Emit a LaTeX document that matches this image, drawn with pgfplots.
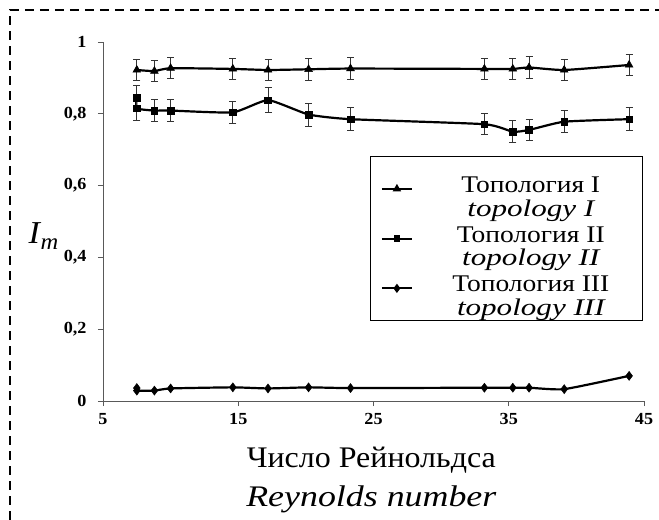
\documentclass[border=0pt]{standalone}
\usepackage{pgfplots}
\pgfplotsset{compat=1.18}
\usepackage{pgfplotstable}
\usepackage{fontspec}
\setmainfont{Liberation Serif}[FakeStretch=1.07]
\newfontfamily\wideit{Liberation Serif}[FakeStretch=1.2]
\newfontfamily\legup{Liberation Serif}[FakeStretch=1.15]
\newfontfamily\legit{Liberation Serif}[FakeStretch=1.3]
\newcommand\lentry[2]{\makebox[198bp]{\fontsize{24}{23.5}\selectfont\begin{tabular}{@{}c@{}}\rule{0pt}{22bp}{\legup #1}\\{\legit\itshape #2}\rule[-12.5bp]{0pt}{0pt}\end{tabular}}}

\pgfplotstableread{
x y e
7.5 0.922 0.03
8.8 0.919 0.03
10.0 0.927 0.03
14.6 0.925 0.03
17.2 0.922 0.03
20.2 0.924 0.03
23.3 0.926 0.03
33.2 0.925 0.03
35.3 0.925 0.03
36.5 0.929 0.03
39.1 0.922 0.03
43.9 0.936 0.03
}\topoI

\pgfplotstableread{
x y e
7.5 0.845 0.035
7.5 0.815 0.033
8.8 0.809 0.03
10.0 0.809 0.03
14.6 0.804 0.03
17.2 0.838 0.034
20.2 0.798 0.032
23.3 0.785 0.032
33.2 0.771 0.03
35.3 0.750 0.03
36.5 0.755 0.03
39.1 0.778 0.03
43.9 0.785 0.032
}\topoII

\pgfplotstableread{
x y
7.5 0.036
7.5 0.029
8.8 0.029
10.0 0.035
14.6 0.038
17.2 0.035
20.2 0.038
23.3 0.036
33.2 0.037
35.3 0.037
36.5 0.037
39.1 0.033
43.9 0.070
}\topoIII

\begin{document}
\begin{tikzpicture}
\useasboundingbox (0bp,0bp) rectangle (659bp,520bp);
\draw[line width=1.4bp, dash pattern=on 9bp off 6bp] (10bp,0bp) -- (10bp,510bp) -- (659bp,510bp);
\begin{axis}[
  at={(103bp,119bp)}, anchor=south west,
  scale only axis, width=541bp, height=359bp,
  xmin=5, xmax=45, ymin=0, ymax=1,
  xtick={5,15,25,35,45}, ytick={0,0.2,0.4,0.6,0.8,1},
  axis lines=left,
  axis line style={-, draw=black!65, line width=0.9bp},
  tick style={draw=black!65, line width=0.9bp},
  tick align=outside, major tick length=5bp,
  /pgf/number format/.cd, use comma, fixed, assume math mode=true,
  /pgfplots/.cd,
  ticklabel style={font=\fontsize{17}{17}\selectfont\bfseries},
  xticklabel style={yshift=-4bp},
  yticklabel style={xshift=-8bp},
  clip=false,
  xlabel={Число Рейнольдса\\{\wideit\itshape Reynolds number}},
  xlabel style={align=center, font=\fontsize{30}{39}\selectfont, at={(axis description cs:0.496,-0.22)}, anchor=center},
  ylabel={\itshape I\kern0.5bp\raisebox{-6bp}{\fontsize{23}{23}\selectfont m}},
  ylabel style={rotate=-90, font=\fontsize{32}{32}\selectfont, at={(axis description cs:-0.11,0.46)}, anchor=center},
  legend style={at={(axis cs:44.95,0.6825)}, anchor=north east, draw=black, line width=1bp,
    nodes={inner sep=2bp},
    row sep=9bp, inner xsep=11bp, inner ysep=12bp, column sep=17bp},
  legend image code/.code={\draw[mark repeat=2,mark phase=2,#1, line width=1.8bp, mark options={scale=0.7, solid}] plot coordinates {(0bp,0bp) (15bp,0bp) (30bp,0bp)};},
]
\addplot[black, line width=2.2bp, smooth, tension=0.3, mark=triangle*, mark size=4.5bp, mark options={solid, line width=0.5bp},
  error bars/.cd, y dir=both, y explicit,
  error bar style={line width=1bp, black!80, solid},
  error mark options={rotate=90, mark size=3.5bp, line width=1bp, black!80}]
  table[x=x, y=y, y error=e] {\topoI};
\addlegendentry{\lentry{Топология I}{topology I}}
\addplot[black, line width=2.2bp, smooth, tension=0.3, mark=square*, mark size=3.3bp, mark options={solid, line width=0.5bp},
  error bars/.cd, y dir=both, y explicit,
  error bar style={line width=1bp, black!80, solid},
  error mark options={rotate=90, mark size=3.5bp, line width=1bp, black!80}]
  table[x=x, y=y, y error=e] {\topoII};
\addlegendentry{\lentry{Топология II}{topology II}}
\addplot[black, line width=2.2bp, smooth, tension=0.3, mark=diamond*, mark size=4.5bp, mark options={solid, line width=0.5bp}]
  table[x=x, y=y] {\topoIII};
\addlegendentry{\lentry{Топология III}{topology III}}
\end{axis}
\end{tikzpicture}
\end{document}
